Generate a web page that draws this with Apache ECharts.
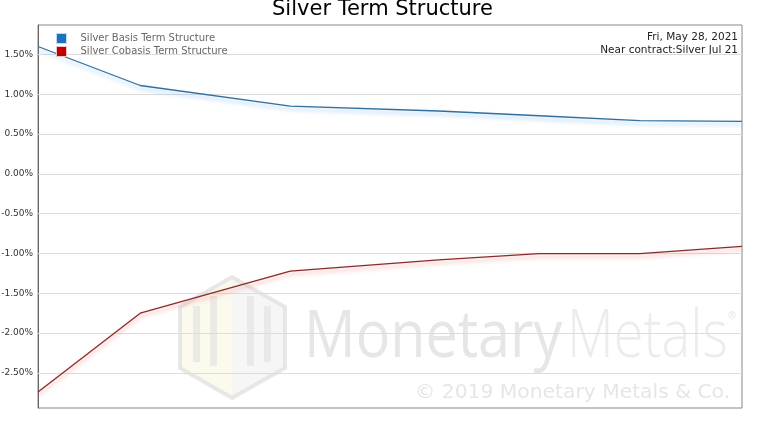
<!DOCTYPE html>
<html><head><meta charset="utf-8">
<script src="https://cdn.jsdelivr.net/npm/echarts@6/dist/echarts.min.js"></script>
<style>html,body{margin:0;padding:0;background:#fff}#c{width:765px;height:425px}</style>
</head><body><div id="c"></div>
<script>
const contracts = ['2021-07-01','2021-09-01','2021-12-01','2022-03-01','2022-05-01','2022-07-01','2022-09-01'];
const basis = [1.60, 1.11, 0.85, 0.79, 0.73, 0.67, 0.66];
const cobasis = [-2.74, -1.75, -1.22, -1.08, -1.00, -1.00, -0.91];
const yTicks = [-2.5, -2.0, -1.5, -1.0, -0.5, 0.0, 0.5, 1.0, 1.5];
const yMin = -2.94, yMax = 1.87;
const seriesNames = ['Silver Basis Term Structure', 'Silver Cobasis Term Structure'];
const titleText = 'Silver Term Structure';
const dateText = 'Fri, May 28, 2021';
const nearText = 'Near contract:Silver Jul 21';

const chart = echarts.init(document.getElementById('c'), null, {renderer:'canvas'});
const FONT = 'DejaVu Sans';
const pairs = a => contracts.map((d,i)=>[d, a[i]]);
const gridMarks = yTicks.map(v => ({yAxis: v}));
const wm = 'rgba(205,205,205,0.5)';

chart.setOption({
  animation: false,
  backgroundColor: '#fff',
  title: {text: titleText, left: 'center', top: -6,
    textStyle: {fontFamily: FONT, fontSize: 21, fontWeight: 'normal', color: '#000'}},
  grid: {left: 38, right: 23, top: 25, bottom: 17, outerBoundsMode: 'none', containLabel: false,
    show: true, borderColor: '#888', borderWidth: 1, backgroundColor: 'transparent'},
  legend: {orient: 'vertical', left: 51, top: 28, itemGap: 2, itemWidth: 10, itemHeight: 10, icon: 'rect',
    textStyle: {fontFamily: FONT, fontSize: 10, color: '#666', padding: [0,0,0,9]},
    data: [
      {name: seriesNames[0], itemStyle: {color: '#1a73c2', borderColor: '#c4dbef', borderWidth: 1}},
      {name: seriesNames[1], itemStyle: {color: '#c00000', borderColor: '#efc4c4', borderWidth: 1}}
    ]},
  xAxis: {type: 'time', min: contracts[0], max: contracts[contracts.length-1],
    axisLine: {show: true, lineStyle: {color: '#666'}}, axisTick: {show: false}, axisLabel: {show: false}, splitLine: {show: false}},
  yAxis: {type: 'value', min: yMin, max: yMax,
    axisLine: {show: true, lineStyle: {color: '#666'}},
    axisTick: {show: false, customValues: yTicks},
    splitLine: {show: false},
    axisLabel: {customValues: yTicks, formatter: v => v.toFixed(2) + '%', fontFamily: FONT, fontSize: 9, color: '#333', margin: 5}},
  graphic: [
    {type: 'text', right: 27, top: 32, style: {text: dateText, font: '10.5px "DejaVu Sans"', fill: '#222', textAlign: 'right'}},
    {type: 'text', right: 27, top: 45, style: {text: nearText, font: '10.5px "DejaVu Sans"', fill: '#222', textAlign: 'right'}},
    {type: 'polygon', silent: true, z: -1, shape: {points: [[232,277],[232,398],[180,368],[180,307]]},
      style: {fill: 'rgba(250,244,222,0.55)'}},
    {type: 'polygon', silent: true, z: -1, shape: {points: [[232,277],[285,307],[285,368],[232,398]]},
      style: {fill: 'rgba(238,238,238,0.55)'}},
    {type: 'polygon', silent: true, z: -1, shape: {points: [[232,277],[285,307],[285,368],[232,398],[180,368],[180,307]]},
      style: {fill: 'none', stroke: 'rgba(222,222,222,0.7)', lineWidth: 4}},
    {type: 'rect', silent: true, z: -1, shape: {x: 193, y: 306, width: 7, height: 56}, style: {fill: 'rgba(222,222,222,0.55)'}},
    {type: 'rect', silent: true, z: -1, shape: {x: 210, y: 296, width: 7, height: 70}, style: {fill: 'rgba(222,222,222,0.55)'}},
    {type: 'rect', silent: true, z: -1, shape: {x: 247, y: 296, width: 7, height: 70}, style: {fill: 'rgba(222,222,222,0.55)'}},
    {type: 'rect', silent: true, z: -1, shape: {x: 264, y: 306, width: 7, height: 56}, style: {fill: 'rgba(222,222,222,0.55)'}},
    {type: 'text', silent: true, z: -1, x: 304, y: 305, scaleX: 0.87, style: {text: 'Monetary', font: '66px "Open Sans"', fill: wm}},
    {type: 'text', silent: true, z: -1, x: 567, y: 305, scaleX: 0.82, style: {text: 'Metals', font: '300 66px "Open Sans"', fill: 'rgba(212,212,212,0.45)'}},
    {type: 'text', silent: true, z: -1, x: 727, y: 311, style: {text: '®', font: '10px "DejaVu Sans"', fill: wm}},
    {type: 'text', silent: true, z: -1, x: 415, y: 383, style: {text: '© 2019 Monetary Metals & Co.', font: '20.3px "DejaVu Sans"', fill: wm}}
  ],
  series: [
    {name: seriesNames[0], type: 'line', data: pairs(basis), showSymbol: false, symbol: 'none', z: 3,
      itemStyle: {color: '#1a73c2'},
      lineStyle: {color: '#336f9c', width: 1.3, shadowColor: 'rgba(110,175,235,0.7)', shadowBlur: 4, shadowOffsetY: 3},
      markLine: {silent: true, symbol: 'none', label: {show: false}, z: 1,
        lineStyle: {color: '#dcdcdc', type: 'solid', width: 1}, data: gridMarks}},
    {name: seriesNames[1], type: 'line', data: pairs(cobasis), showSymbol: false, symbol: 'none', z: 3,
      itemStyle: {color: '#c00000'},
      lineStyle: {color: '#8a2b2b', width: 1.3, shadowColor: 'rgba(240,120,120,0.7)', shadowBlur: 4, shadowOffsetY: 3}}
  ]
});
</script></body></html>
